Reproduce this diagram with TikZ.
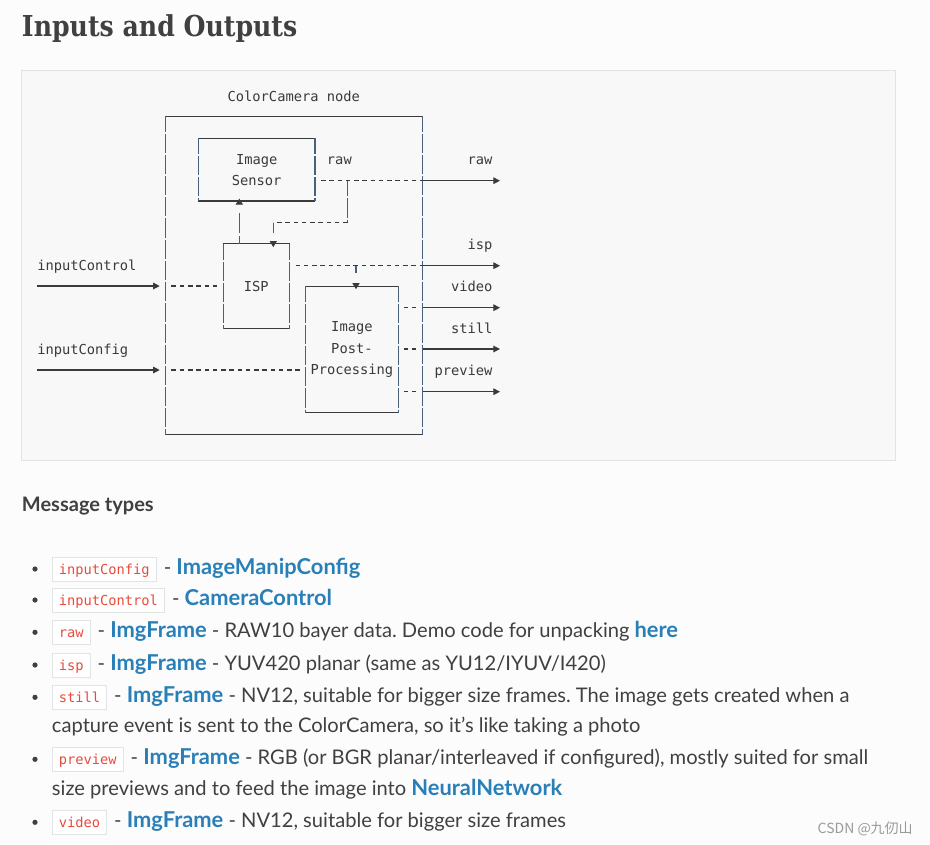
\documentclass[tikz,border=0pt]{standalone}
\usepackage{fontspec}
\setmainfont{Lato}
\newfontfamily\codefont{DejaVu Sans Mono}
\newfontfamily\titlefont[FakeStretch=0.875]{DejaVu Serif}
\newfontfamily\cjkfont{Noto Sans CJK SC}
\usetikzlibrary{arrows.meta}
\frenchspacing

\definecolor{pagebg}{HTML}{FCFCFC}
\definecolor{codebg}{HTML}{F8F8F8}
\definecolor{codeborder}{HTML}{E1E4E5}
\definecolor{textcol}{HTML}{404040}
\definecolor{linkcol}{HTML}{2980B9}
\definecolor{redcode}{HTML}{E74C3C}
\definecolor{asciicol}{HTML}{3A3A3A}
\definecolor{barcol}{HTML}{48607A}
\definecolor{markcol}{HTML}{9A9A9A}

\newcommand{\lnk}[1]{{\bfseries\fontsize{16.4}{18}\selectfont\color{linkcol}#1}}

\begin{document}
\begin{tikzpicture}[x=0.75pt, y=-0.75pt,
		mono/.style={font=\codefont\fontsize{10.3}{15.8}\selectfont, text=asciicol, inner sep=0pt},
		asciibox/.style={mono, align=center},
		body/.style={font=\fontsize{15.1}{18}\selectfont, text=textcol, inner sep=0pt, anchor=base west},
		inlinecode/.style={font=\codefont\fontsize{10.3}{12}\selectfont, text=redcode, draw=codeborder,
			fill=white, line width=0.75pt, anchor=base west, inner xsep=4.95pt, inner ysep=0pt,
			text height=12.45pt, text depth=5.25pt},
		hbar/.style={asciicol, line width=0.8pt},
		vbar/.style={barcol, line width=0.8pt, dash pattern=on 14.3pt off 1.5pt, dash phase=2.5pt},
		dashline/.style={asciicol, line width=0.8pt, dash pattern=on 3.4pt off 2.8pt},
		outarrow/.style={asciicol, line width=0.8pt, -{Triangle[length=5pt, width=5pt]}},
		uparrow/.style={barcol, line width=0.8pt, -{Triangle[length=4.5pt, width=5.25pt, color=asciicol]}},
	]

	% Page and code block
	\fill[pagebg] (0,0) rectangle (930,844);
	\filldraw[fill=codebg, draw=codeborder, line width=0.75pt] (21,70) rectangle (895.7,460);

	% Title
	\node[anchor=base west, inner sep=0pt, text=textcol,
		font=\titlefont\bfseries\fontsize{21.6}{26}\selectfont] (title) at (21.7,36) {Inputs and Outputs};

	% Boxes of the ColorCamera node
	\node[mono, anchor=base] (camtitle) at (293.8,101.2) {ColorCamera node};
	\node[asciibox, minimum width=192.75pt, minimum height=238.2pt] (cam) at (293.8,275.5) {};
	\node[asciibox, minimum width=87pt, minimum height=46.5pt] (sensor) at (256.7,169.7) {Image\\Sensor};
	\node[asciibox, minimum width=49.5pt, minimum height=63.2pt] (isp) at (256.3,286.2) {ISP};
	\node[asciibox, minimum width=68.8pt, minimum height=94.2pt] (post) at (351.9,349.5) {Image\\Post-\\Processing};

	\foreach \b in {cam, sensor, isp, post} {
		\draw[hbar] (\b.north west) -- (\b.north east);
		\draw[hbar] (\b.south west) -- (\b.south east);
		\draw[vbar] (\b.north west) -- (\b.south west);
		\draw[vbar] (\b.north east) -- (\b.south east);
	}

	% Free ends and turning points
	\coordinate (rawout) at (500,180.7);
	\coordinate (ispout) at (500,265.7);
	\coordinate (videoout) at (500,307.7);
	\coordinate (stillout) at (500,349);
	\coordinate (previewout) at (500,391.7);
	\coordinate (ctrlin) at (37,286);
	\coordinate (cfgin) at (37,370);
	\coordinate (rawtee) at (347.7,180.7);
	\coordinate (fbcorner) at (347.7,222.7);
	\coordinate (fbturn) at (273.3,222.7);
	\coordinate (isptee) at (356,265.7);
	\coordinate (ctrlx) at (239.3,0);

	% Labels
	\node[mono, anchor=base west] (rawin) at (326.7,164.9) {raw};
	\node[mono, anchor=base east] (rawlbl) at (492.7,164.9) {raw};
	\node[mono, anchor=base east] (isplbl) at (492.7,249.4) {isp};
	\node[mono, anchor=base east] (videolbl) at (492.7,291.6) {video};
	\node[mono, anchor=base east] (stilllbl) at (492.7,333.8) {still};
	\node[mono, anchor=base east] (previewlbl) at (492.7,375.5) {preview};
	\node[mono, anchor=base west] (ctrllbl) at (37,270.3) {inputControl};
	\node[mono, anchor=base west] (cfglbl) at (37,354.4) {inputConfig};

	% Connections
	\draw[dashline, shorten <=4.5pt] (sensor.east |- rawout) -- (cam.east |- rawout);
	\draw[vbar] (rawtee) -- (fbcorner);
	\draw[dashline] (fbcorner) -- (fbturn);
	\draw[uparrow, dash pattern=on 7.5pt off 20pt, shorten >=-2.5pt] (fbturn) -- (isp.north -| fbturn);
	\draw[uparrow, dash pattern=on 6.2pt off 2pt on 15pt off 20pt, shorten >=-1.8pt]
		(isp.north -| ctrlx) -- (sensor.south -| ctrlx);
	\draw[dashline, shorten <=4.5pt] (isp.east |- ispout) -- (cam.east |- ispout);
	\draw[uparrow, dash pattern=on 5.7pt off 20pt, shorten >=-2.1pt] (isptee) -- (post.north -| isptee);
	\foreach \p in {rawout, ispout} {
		\draw[outarrow] (cam.east |- \p) -- (\p);
	}
	\foreach \p in {videoout, stillout, previewout} {
		\draw[dashline, shorten <=4.2pt, shorten >=4.2pt] (post.east |- \p) -- (cam.east |- \p);
		\draw[outarrow] (cam.east |- \p) -- (\p);
	}
	\draw[outarrow, shorten >=4pt] (ctrlin) -- (cam.west |- ctrlin);
	\draw[outarrow, shorten >=4pt] (cfgin) -- (cam.west |- cfgin);
	\draw[dashline, shorten <=4.8pt, shorten >=3.7pt] (cam.west |- ctrlin) -- (isp.west |- ctrlin);
	\draw[dashline, shorten <=4.8pt, shorten >=3.2pt] (cam.west |- cfgin) -- (post.west |- cfgin);

	% Message types
	\node[body, font=\bfseries\fontsize{15}{18}\selectfont] (msgtitle) at (21.7,511.7) {Message types};

	\foreach \y in {574, 605, 637.3, 670, 702.3, 764.3, 827.3} {
		\fill[textcol] (35,\y-5) circle (1.95pt);
	}

	\node[inlinecode] (cfgcode) at (51.7,574) {inputConfig};
	\node[body] (cfgtext) at ([xshift=5pt]cfgcode.base east) {- \lnk{ImageManipConfig}};

	\node[inlinecode] (ctrlcode) at (51.7,605) {inputControl};
	\node[body] (ctrltext) at ([xshift=5pt]ctrlcode.base east) {- \lnk{CameraControl}};

	\node[inlinecode] (rawcode) at (51.7,637.3) {raw};
	\node[body] (rawtext) at ([xshift=5pt]rawcode.base east)
		{- \lnk{ImgFrame} - RAW10 bayer data. Demo code for unpacking \lnk{here}};

	\node[inlinecode] (ispcode) at (51.7,670) {isp};
	\node[body] (isptext) at ([xshift=5pt]ispcode.base east)
		{- \lnk{ImgFrame} - YUV420 planar (same as YU12/IYUV/I420)};

	\node[inlinecode] (stillcode) at (51.7,702.3) {still};
	\node[body] (stilltext) at ([xshift=5pt]stillcode.base east)
		{- \lnk{ImgFrame} - NV12, suitable for bigger size frames. The image gets created when a};
	\node[body] (stillmore) at (51.7,732.3) {capture event is sent to the ColorCamera, so it’s like taking a photo};

	\node[inlinecode] (previewcode) at (51.7,764.3) {preview};
	\node[body] (previewtext) at ([xshift=5pt]previewcode.base east)
		{- \lnk{ImgFrame} - RGB (or BGR planar/interleaved if configured), mostly suited for small};
	\node[body] (previewmore) at (51.7,795.3) {size previews and to feed the image into \lnk{NeuralNetwork}};

	\node[inlinecode] (videocode) at (51.7,827.3) {video};
	\node[body] (videotext) at ([xshift=5pt]videocode.base east)
		{- \lnk{ImgFrame} - NV12, suitable for bigger size frames};

	% Watermark
	\node[anchor=base east, inner sep=0pt, text=markcol, font=\cjkfont\fontsize{10.5}{12}\selectfont]
		(mark) at (913,833) {CSDN @九仞山};

\end{tikzpicture}
\end{document}
